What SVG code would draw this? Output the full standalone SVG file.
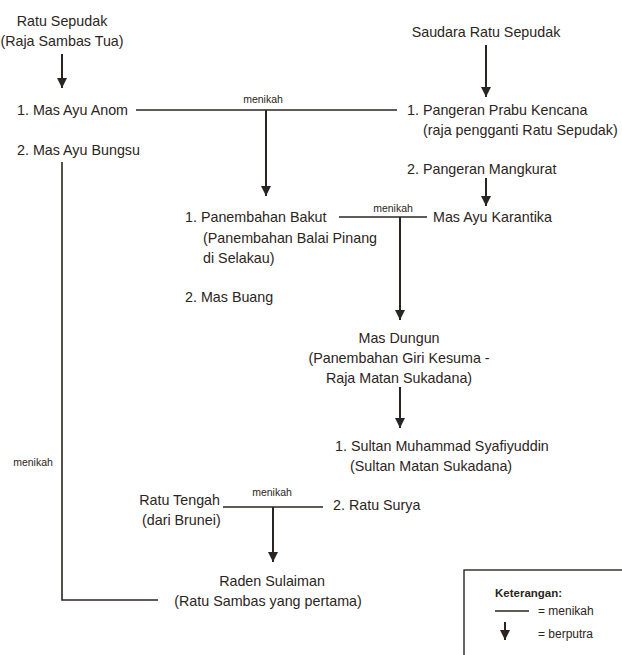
<svg xmlns="http://www.w3.org/2000/svg" width="622" height="655" viewBox="0 0 622 655">
<defs>
<style>
text{font-family:"Liberation Sans",Arial,sans-serif;fill:#2b2522}
.t{font-size:14.3px}
.s{font-size:10.5px}
.m{text-anchor:middle}
.b{font-weight:bold;font-size:11.5px}
.lg{font-size:12px}
.ln{stroke:#2b2522;stroke-width:1.6;fill:none}
.ar{stroke:#2b2522;stroke-width:2;fill:none}
</style>
<marker id="ah" viewBox="0 0 10 10" refX="10" refY="5" markerWidth="5" markerHeight="5" orient="auto" markerUnits="strokeWidth">
<path d="M0,0 L10,5 L0,10 z" fill="#2b2522"/>
</marker>
</defs>
<rect width="622" height="655" fill="#fff"/>
<g id="connectors">
<line class="ar" x1="62" y1="54" x2="62" y2="88" marker-end="url(#ah)"/>
<line class="ln" x1="136" y1="110" x2="397" y2="110"/>
<line class="ar" x1="266" y1="110" x2="266" y2="196" marker-end="url(#ah)"/>
<line class="ar" x1="486" y1="45" x2="486" y2="97" marker-end="url(#ah)"/>
<line class="ar" x1="486" y1="178" x2="486" y2="206" marker-end="url(#ah)"/>
<line class="ln" x1="339" y1="217" x2="427" y2="217"/>
<line class="ar" x1="400" y1="217" x2="400" y2="320" marker-end="url(#ah)"/>
<line class="ar" x1="400" y1="387" x2="400" y2="428" marker-end="url(#ah)"/>
<polyline class="ln" points="62,162 62,600 158,600"/>
<line class="ln" x1="223" y1="507" x2="323" y2="507"/>
<line class="ar" x1="273" y1="507" x2="273" y2="562" marker-end="url(#ah)"/>
<text class="s" x="263" y="103" text-anchor="middle">menikah</text>
<text class="s" x="393" y="212" text-anchor="middle">menikah</text>
<text class="s" x="33" y="466" text-anchor="middle">menikah</text>
<text class="s" x="272" y="496" text-anchor="middle">menikah</text>
</g>
<g id="ratu-sepudak"><text class="t m" x="62" y="26">Ratu Sepudak</text><text class="t m" x="62" y="46">(Raja Sambas Tua)</text></g>
<g id="mas-ayu-anom"><text class="t" x="17" y="115">1. Mas Ayu Anom</text></g>
<g id="mas-ayu-bungsu"><text class="t" x="17" y="155">2. Mas Ayu Bungsu</text></g>
<g id="saudara"><text class="t m" x="486" y="37">Saudara Ratu Sepudak</text></g>
<g id="prabu-kencana"><text class="t" x="407" y="115">1. Pangeran Prabu Kencana</text><text class="t" x="423" y="135">(raja pengganti Ratu Sepudak)</text></g>
<g id="mangkurat"><text class="t" x="407" y="174">2. Pangeran Mangkurat</text></g>
<g id="karantika"><text class="t" x="433" y="222">Mas Ayu Karantika</text></g>
<g id="bakut"><text class="t" x="185" y="222">1. Panembahan Bakut</text><text class="t" x="203" y="243">(Panembahan Balai Pinang</text><text class="t" x="203" y="263">di Selakau)</text></g>
<g id="mas-buang"><text class="t" x="185" y="302">2. Mas Buang</text></g>
<g id="mas-dungun"><text class="t m" x="399" y="343">Mas Dungun</text><text class="t m" x="399" y="363">(Panembahan Giri Kesuma -</text><text class="t m" x="399" y="383">Raja Matan Sukadana)</text></g>
<g id="syafiyuddin"><text class="t" x="335" y="451">1. Sultan Muhammad Syafiyuddin</text><text class="t" x="350" y="471">(Sultan Matan Sukadana)</text></g>
<g id="ratu-tengah"><text class="t" x="220" y="505" text-anchor="end">Ratu Tengah</text><text class="t" x="142" y="525">(dari Brunei)</text></g>
<g id="ratu-surya"><text class="t" x="333" y="510">2. Ratu Surya</text></g>
<g id="raden-sulaiman"><text class="t m" x="272" y="586">Raden Sulaiman</text><text class="t m" x="268" y="606">(Ratu Sambas yang pertama)</text></g>
<g id="legend">
<rect x="464" y="570" width="170" height="100" fill="none" stroke="#2b2522" stroke-width="1.4"/>
<text class="b" x="495" y="597">Keterangan:</text>
<line class="ln" x1="495" y1="611" x2="529" y2="611"/>
<text class="lg" x="538" y="615">= menikah</text>
<line class="ar" x1="505" y1="622" x2="505" y2="640" marker-end="url(#ah)"/>
<text class="lg" x="538" y="638">= berputra</text>
</g>
</svg>
